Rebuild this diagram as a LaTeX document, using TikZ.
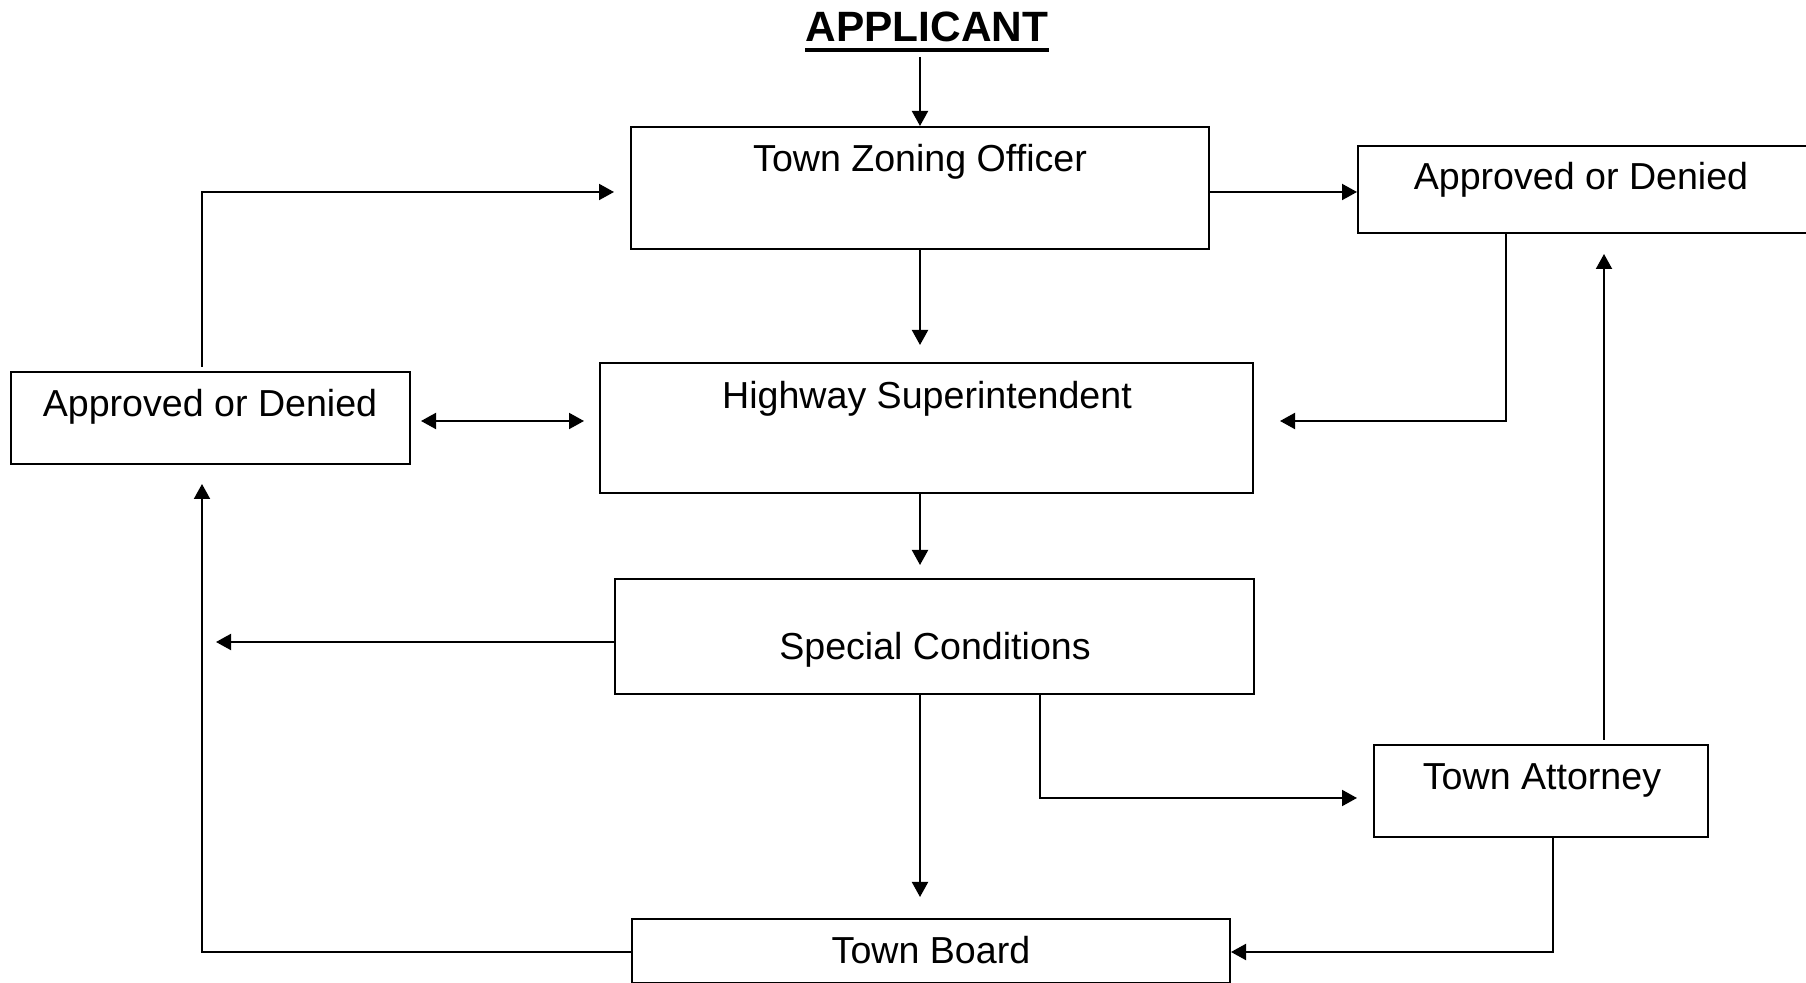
\documentclass[tikz,border=0pt]{standalone}
\usepackage{fontspec}
\setmainfont{Liberation Sans}
\usetikzlibrary{arrows.meta,calc,fit}
\tikzset{
  box/.style={draw=black, line width=1pt, inner sep=0pt, rectangle},
  txt/.style={inner sep=0pt, anchor=base, font=\fontsize{18.8}{22}\selectfont},
  arr/.style={line width=1pt, -{Triangle[length=7.5pt,width=8pt]}},
  arrb/.style={line width=1pt, {Triangle[length=7.5pt,width=8pt]}-{Triangle[length=7.5pt,width=8pt]}},
}
\begin{document}
\begin{tikzpicture}[x=0.5pt,y=-0.5pt]
\useasboundingbox (0,0) rectangle (1806,983);
\clip (0,0) rectangle (1806,983);
\fill[white] (0,0) rectangle (1806,983);
% boxes
\node[box, fit={(631,127) (1209,249)}] (zo) {};
\node[box, fit={(1358,146) (1815,233)}] (ra) {};
\node[box, fit={(11,372) (410,464)}] (la) {};
\node[box, fit={(600,363) (1253,493)}] (hs) {};
\node[box, fit={(615,579) (1254,694)}] (sc) {};
\node[box, fit={(1374,745) (1708,837)}] (ta) {};
\node[box, fit={(632,919) (1230,983)}] (tb) {};
% texts
\node[inner sep=0pt, anchor=base, font=\fontsize{21.2}{25}\selectfont\bfseries] (app) at (927,42) {APPLICANT};
\draw[line width=2pt] ($(app.base west)+(0,8)$) -- ($(app.base east)+(0,8)$);
\node[txt] (zot) at (920,172) {Town Zoning Officer};
\node[txt] (rat) at (1581,190) {Approved or Denied};
\node[txt] (lat) at (210,417) {Approved or Denied};
\node[txt] (hst) at (927,409) {Highway Superintendent};
\node[txt] (sct) at (935,660) {Special Conditions};
\node[txt] (tat) at (1542,790) {Town Attorney};
\node[txt] (tbt) at (931,964) {Town Board};
% connectors
\coordinate (lv) at ($(la.south)+(-8.5,0)$);
\draw[arr] ($(zo.north)+(0,-69)$) -- (zo.north);
\draw[arr] ($(zo.east)+(0,4)$) -- ($(ra.west)+(0,2.5)$);
\draw[arr] (zo.south) -- ($(zo.south |- hs.north)+(0,-17)$);
\draw[arr] ($(la.north)+(-8.5,-4)$) |- ($(zo.west)+(-16,4)$);
\draw[arrb] ($(la.east)+(10,3)$) -- ($(hs.west)+(-15,-7)$);
\draw[arr] ($(ra.south)+(-80.5,0)$) |- ($(hs.east)+(26,-7)$);
\draw[arr] (zo.south |- hs.south) -- ($(zo.south |- sc.north)+(0,-13)$);
\draw[arr] ($(sc.west)+(0,5.5)$) coordinate (s8) -- ([xshift=7pt]s8 -| lv);
\draw[arr] ($(tb.west)+(0,1)$) -| ($(lv)+(0,19)$);
\draw[arr] (zo.south |- sc.south) -- ($(zo.south |- tb.north)+(0,-21)$);
\draw[arr] ($(sc.south)+(105.5,0)$) |- ($(ta.west)+(-16,7)$);
\draw[arr] ($(ta.north)+(63,-4)$) coordinate (t12) -- ([yshift=-10pt]t12 |- ra.south);
\draw[arr] ($(ta.south)+(12,0)$) |- ($(tb.east)+(0,1)$);
\end{tikzpicture}
\end{document}
